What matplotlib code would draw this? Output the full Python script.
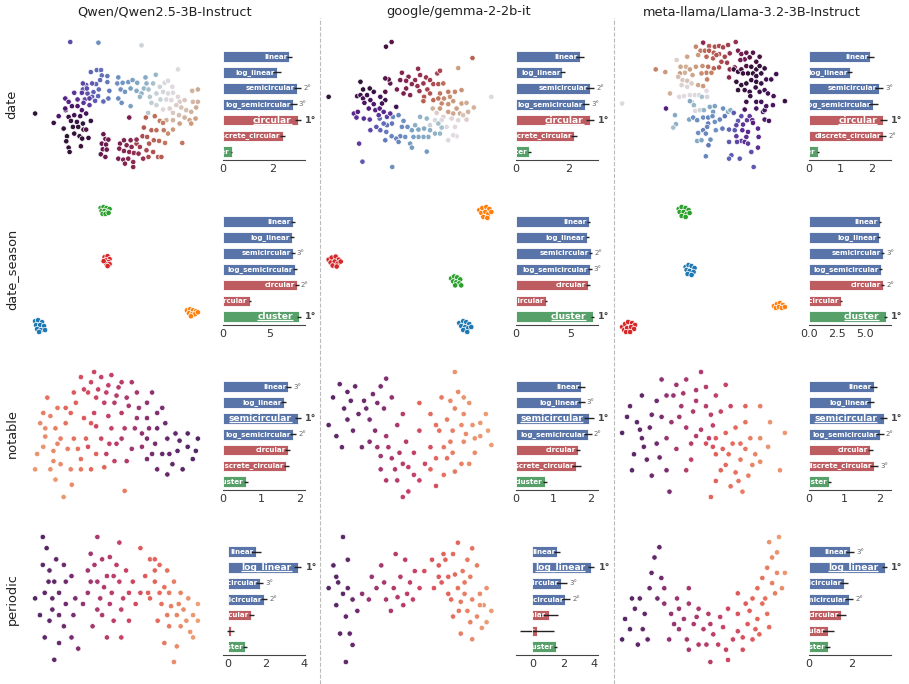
import matplotlib
matplotlib.use("Agg")
import matplotlib.pyplot as plt
import seaborn as sns
from matplotlib.lines import Line2D
from matplotlib.ticker import MaxNLocator
from matplotlib.transforms import Bbox, TransformedBbox

models = ["Qwen/Qwen2.5-3B-Instruct", "google/gemma-2-2b-it", "meta-llama/Llama-3.2-3B-Instruct"]
datasets = ["date", "date_season", "notable", "periodic"]
methods = ["linear", "log_linear", "semicircular", "log_semicircular",
           "circular", "discrete_circular", "cluster"]
method_family = ["lin", "lin", "lin", "lin", "circ", "circ", "clu"]
family_color = {"lin": "#5874a8", "circ": "#bd5d62", "clu": "#58a06a"}

# bar scores per model (rows: qwen, gemma, llama)
date_mean = [[2.69, 2.19, 3.01, 2.84, 3.03, 2.41, 0.36],
             [2.45, 1.78, 2.83, 2.65, 2.83, 2.22, 0.51],
             [1.97, 1.31, 2.25, 2.06, 2.39, 2.37, 0.28]]
date_err = [[0.11, 0.15, 0.15, 0.14, 0.11, 0.11, 0.02],
            [0.16, 0.10, 0.16, 0.14, 0.15, 0.11, 0.06],
            [0.12, 0.08, 0.14, 0.15, 0.12, 0.12, 0.03]]
date_rank = [[0, 0, 2, 3, 1, 0, 0], [0, 0, 2, 3, 1, 0, 0], [0, 0, 3, 0, 1, 2, 0]]

season_mean = [[7.50, 7.43, 7.50, 7.75, 7.93, 2.86, 8.18],
               [6.70, 6.57, 6.88, 6.82, 6.64, 2.75, 7.07],
               [6.31, 6.19, 6.55, 6.37, 6.55, 2.86, 6.80]]
season_err = [[0.2, 0.2, 0.2, 0.2, 0.2, 0.1, 0.2],
              [0.15, 0.15, 0.15, 0.15, 0.15, 0.12, 0.13],
              [0.12, 0.12, 0.13, 0.12, 0.13, 0.1, 0.13]]
season_rank = [[0, 0, 3, 0, 2, 0, 1], [0, 0, 2, 3, 0, 0, 1], [0, 0, 3, 0, 2, 0, 1]]

notable_mean = [[1.70, 1.58, 1.95, 1.82, 1.68, 1.65, 0.60],
                [1.74, 1.74, 1.95, 1.91, 1.65, 1.61, 0.77],
                [1.83, 1.75, 2.11, 2.00, 1.74, 1.85, 0.58]]
notable_err = [[0.07, 0.07, 0.08, 0.08, 0.07, 0.07, 0.05],
               [0.11, 0.09, 0.13, 0.11, 0.06, 0.13, 0.06],
               [0.09, 0.10, 0.10, 0.11, 0.06, 0.11, 0.04]]
notable_rank = [[3, 0, 1, 2, 0, 0, 0], [0, 3, 1, 2, 0, 0, 0], [0, 0, 1, 2, 0, 3, 0]]

periodic_mean = [[1.45, 3.68, 1.67, 1.90, 1.22, 0.12, 0.90],
                 [1.60, 3.79, 1.87, 2.13, 1.04, 0.28, 1.49],
                 [1.92, 3.55, 1.65, 1.89, 1.50, 0.87, 0.87]]
periodic_err = [[0.27, 0.18, 0.18, 0.16, 0.14, 0.20, 0.10],
                [0.20, 0.20, 0.37, 0.30, 0.64, 1.10, 0.10],
                [0.20, 0.12, 0.19, 0.19, 0.24, 0.31, 0.10]]
periodic_rank = [[0, 1, 3, 2, 0, 0, 0], [0, 1, 3, 2, 0, 0, 0], [3, 1, 0, 2, 0, 0, 0]]

# 2-d projections of the hidden states: (x, y, colour value), y grows downwards
qwen_date_pts = [
    (210, 36, .32), (295, 38, .2), (425, 46, .05), (535, 118, .02), (104, 250, .5), (388, 262, .63),
    (400, 410, .65), (548, 338, .8),
    (272, 126, .28), (290, 120, .27), (303, 120, .26), (305, 136, .26), (322, 138, .25), (322, 156, .24),
    (300, 150, .27), (288, 162, .28), (276, 160, .3), (258, 165, .31), (248, 178, .32), (262, 190, .31),
    (280, 186, .29), (296, 178, .27), (294, 198, .28), (276, 200, .3), (254, 208, .33), (285, 212, .3),
    (310, 214, .27), (325, 205, .25), (328, 182, .24),
    (355, 142, .2), (352, 160, .2), (368, 158, .19), (385, 156, .18), (398, 150, .17), (412, 158, .16),
    (437, 142, .15), (468, 134, .12), (440, 160, .13), (362, 178, .2), (375, 185, .19), (392, 175, .17),
    (410, 182, .15), (425, 190, .13), (432, 175, .12), (446, 178, .1), (460, 160, .1), (355, 205, .21),
    (365, 218, .2), (392, 228, .17), (420, 200, .12), (450, 200, .08), (470, 190, .06),
    (480, 170, .05), (495, 158, .03), (505, 152, .02), (518, 170, .01), (490, 185, .04), (505, 190, .02),
    (520, 188, .99), (482, 208, .06), (500, 208, .03), (515, 210, .98), (535, 200, .97), (455, 218, .07),
    (470, 225, .05), (445, 248, .08), (490, 238, .98), (510, 235, .96), (540, 215, .95),
    (578, 182, .9), (595, 178, .89), (555, 210, .94), (580, 215, .91), (595, 215, .9), (530, 225, .95),
    (545, 232, .93), (560, 240, .92), (575, 245, .9), (590, 232, .89), (520, 248, .94), (538, 255, .92),
    (555, 262, .9), (570, 270, .88), (588, 265, .87), (500, 270, .9), (520, 270, .9), (540, 280, .87),
    (520, 298, .86), (505, 310, .84), (575, 280, .86),
    (438, 262, .77), (465, 258, .79), (480, 272, .81), (490, 278, .82), (432, 292, .75), (455, 300, .77),
    (470, 300, .79), (492, 300, .81), (428, 318, .73), (442, 320, .75), (462, 330, .77), (478, 332, .78),
    (496, 338, .8), (448, 340, .75), (410, 340, .71), (440, 360, .72), (460, 365, .74), (475, 380, .75),
    (485, 380, .76), (446, 380, .73), (420, 350, .7),
    (310, 312, .6), (316, 326, .61), (325, 328, .61), (305, 340, .6), (318, 343, .61), (308, 357, .6),
    (320, 358, .61), (302, 372, .6), (316, 380, .61), (360, 340, .63), (372, 330, .64), (392, 330, .65),
    (410, 328, .67), (380, 345, .65), (395, 350, .66), (358, 355, .64), (372, 362, .65), (388, 365, .66),
    (402, 368, .67), (416, 370, .67), (355, 385, .63), (370, 388, .64), (385, 385, .65), (430, 385, .68),
    (375, 400, .65), (400, 395, .66),
    (196, 240, .45), (215, 228, .43), (232, 228, .42), (245, 240, .42), (205, 260, .47), (222, 255, .45),
    (240, 258, .45), (258, 250, .44), (272, 272, .48), (212, 272, .48), (230, 275, .48), (248, 280, .48),
    (190, 295, .5), (218, 290, .5), (234, 290, .5), (250, 298, .52), (258, 298, .58), (200, 318, .5),
    (222, 310, .51), (238, 318, .51), (246, 325, .51), (265, 323, .53), (198, 333, .5), (205, 352, .51),
    (208, 365, .51), (242, 348, .53), (160, 278, .47),
    (248, 160, .33), (222, 188, .36), (245, 188, .35), (260, 175, .32), (195, 205, .39), (205, 215, .39),
    (232, 208, .37), (250, 218, .36), (268, 205, .34), (195, 235, .42), (175, 258, .42), (268, 225, .35)]

gemma_date_pts = [
    (214, 36, .58), (197, 50, .55), (458, 84, .77), (415, 114, .87), (515, 200, .98), (24, 200, .5),
    (116, 340, .35), (126, 394, .3), (216, 410, .2), (320, 364, .18),
    (294, 116, .67), (245, 128, .65), (300, 135, .68), (352, 130, .71), (360, 122, .72), (265, 140, .65),
    (240, 150, .63), (258, 152, .65), (285, 150, .67), (318, 142, .69), (330, 150, .7), (310, 160, .69),
    (275, 162, .66), (292, 168, .68), (230, 178, .63), (258, 175, .64), (298, 183, .69), (322, 178, .71),
    (340, 162, .73), (355, 162, .75), (270, 195, .65), (250, 190, .63), (195, 185, .58), (210, 160, .59),
    (205, 148, .57), (195, 145, .58),
    (370, 160, .79), (385, 185, .81), (405, 185, .83), (425, 180, .85), (360, 190, .8), (330, 190, .75),
    (312, 200, .75), (310, 213, .77), (340, 210, .78), (355, 205, .8), (372, 205, .83), (390, 200, .85),
    (400, 213, .86), (365, 220, .83), (385, 222, .85), (410, 235, .87), (425, 220, .87), (440, 218, .89),
    (462, 232, .9), (445, 245, .9), (420, 250, .89), (400, 250, .88), (385, 245, .87), (360, 235, .86),
    (338, 235, .9), (350, 248, .95),
    (370, 260, .96), (395, 265, .97), (415, 270, .98), (440, 268, .95), (430, 255, .93), (405, 290, .99),
    (380, 290, .01), (365, 270, .02), (345, 270, .03), (330, 285, .05), (385, 330, .02), (410, 318, .0),
    (400, 315, .0),
    (320, 265, .12), (300, 260, .13), (285, 285, .14), (275, 300, .17), (295, 298, .16), (312, 295, .15),
    (330, 300, .14), (345, 310, .13), (360, 310, .12), (325, 320, .15), (310, 320, .15), (295, 320, .16),
    (280, 320, .17), (270, 340, .18), (275, 352, .18), (255, 320, .2), (240, 318, .22), (228, 325, .22),
    (214, 318, .22), (198, 305, .24), (195, 330, .24), (235, 335, .22), (250, 272, .2), (262, 290, .2),
    (245, 290, .21), (218, 260, .22), (235, 255, .22), (215, 280, .25), (200, 285, .26), (190, 280, .27),
    (178, 265, .28), (180, 300, .28), (168, 290, .3), (365, 292, .1), (355, 280, .1),
    (110, 198, .45), (120, 195, .46), (128, 205, .45), (140, 195, .46), (132, 218, .43), (150, 210, .44),
    (160, 222, .42), (145, 235, .41), (165, 240, .4), (178, 235, .4), (190, 245, .38), (180, 200, .44),
    (160, 185, .48), (148, 175, .5), (128, 178, .5), (120, 155, .5), (100, 250, .38), (108, 262, .37),
    (112, 245, .4), (130, 265, .37), (148, 268, .35), (150, 300, .33), (175, 255, .36), (200, 260, .34),
    (228, 230, .45), (210, 250, .36), (195, 210, .47), (185, 220, .45)]

llama_date_pts = [
    (36, 220, .99), (137, 118, .82), (166, 126, .86), (180, 190, .9), (168, 235, .4), (526, 213, .48),
    (432, 410, .3), (378, 36, .68), (280, 38, .66), (288, 378, .22),
    (258, 50, .83), (298, 48, .76), (315, 50, .74), (328, 48, .73), (340, 52, .72), (355, 45, .71),
    (272, 62, .81), (285, 62, .79), (298, 62, .76), (312, 68, .76), (328, 72, .74), (345, 80, .72),
    (360, 70, .68), (290, 80, .78), (310, 85, .76), (320, 75, .75), (335, 95, .73), (352, 98, .71),
    (328, 112, .74), (312, 115, .77), (295, 110, .8), (278, 108, .85), (290, 128, .82), (305, 128, .82),
    (360, 118, .66), (375, 112, .64), (385, 62, .63), (395, 72, .62), (410, 68, .6), (405, 88, .61),
    (392, 90, .62),
    (232, 80, .88), (265, 75, .86), (212, 110, .88), (228, 110, .9), (240, 118, .87), (258, 110, .86),
    (210, 130, .86), (225, 128, .9), (248, 135, .88), (275, 130, .84), (205, 140, .92), (218, 150, .94),
    (232, 152, .93), (245, 160, .95), (265, 165, .88), (280, 168, .86), (215, 165, .96), (232, 170, .97),
    (200, 90, .96), (292, 148, .82),
    (208, 200, .99), (222, 198, .0), (240, 195, .01), (255, 195, .02), (268, 195, .03), (290, 182, .0),
    (292, 200, .04), (276, 200, .1), (245, 215, .1), (252, 225, .12), (256, 242, .02), (270, 240, .05),
    (240, 213, .15), (282, 240, .13), (300, 230, .15), (315, 228, .17), (310, 245, .18), (340, 235, .2),
    (355, 245, .15), (362, 240, .14), (195, 255, .15), (198, 282, .14), (190, 292, .1), (238, 268, .16),
    (250, 262, .2), (262, 270, .2), (280, 262, .2), (295, 262, .22), (308, 258, .2), (295, 280, .24),
    (315, 275, .2), (330, 268, .22), (345, 258, .25), (292, 290, .22), (318, 300, .2), (338, 295, .25),
    (280, 300, .23), (265, 308, .2), (288, 310, .22), (262, 332, .15), (275, 330, .16), (302, 328, .2),
    (296, 345, .25), (358, 298, .28), (375, 300, .3),
    (372, 248, .3), (385, 272, .3), (395, 258, .32), (380, 285, .33), (400, 283, .36), (412, 270, .35),
    (420, 258, .35), (428, 270, .38), (398, 300, .37), (415, 305, .38), (380, 318, .35), (395, 332, .35),
    (410, 320, .37), (405, 335, .37), (382, 335, .33), (415, 340, .35), (358, 335, .3), (445, 295, .38),
    (447, 320, .38), (445, 352, .37), (425, 365, .32), (390, 385, .3), (365, 375, .3), (358, 385, .28),
    (430, 278, .4), (460, 245, .42), (465, 268, .42), (478, 272, .44), (465, 240, .44),
    (372, 118, .52), (385, 125, .53), (395, 118, .55), (410, 108, .57), (425, 110, .52), (440, 118, .51),
    (450, 108, .52), (465, 115, .49), (400, 130, .53), (415, 130, .51), (430, 130, .5), (440, 138, .48),
    (455, 130, .47), (470, 148, .45), (485, 148, .45), (500, 132, .45), (380, 155, .51), (395, 165, .5),
    (410, 160, .5), (425, 150, .49), (440, 155, .48), (455, 160, .47), (385, 180, .5), (405, 180, .48),
    (420, 185, .47), (438, 172, .47), (450, 185, .46), (465, 180, .45), (475, 190, .45), (492, 198, .44),
    (422, 198, .47), (410, 215, .46), (440, 215, .45), (455, 215, .44), (470, 228, .43), (490, 225, .43),
    (405, 238, .44), (440, 235, .43), (430, 68, .58), (450, 80, .56), (440, 95, .55), (420, 82, .58),
    (358, 142, .66)]

# date_season: colour value is the season index (tab10)
qwen_season_pts = [
    (99, 207, 2), (102, 206, 2), (105, 207, 2), (108, 208, 2), (100, 210, 2), (103, 210, 2), (106, 211, 2),
    (101, 213, 2), (104, 213, 2), (107, 212, 2),
    (103, 257, 3), (106, 256, 3), (108, 259, 3), (104, 260, 3), (107, 262, 3), (105, 264, 3), (102, 261, 3),
    (108, 264, 3), (106, 266, 3),
    (33, 322, 0), (36, 321, 0), (40, 323, 0), (34, 326, 0), (38, 326, 0), (42, 327, 0), (35, 330, 0),
    (39, 331, 0), (43, 331, 0), (37, 333, 0),
    (186, 311, 1), (189, 310, 1), (192, 311, 1), (195, 312, 1), (188, 314, 1), (191, 315, 1), (194, 315, 1),
    (197, 313, 1), (190, 317, 1)]
gemma_season_pts = [
    (481, 210, 1), (484, 208, 1), (488, 207, 1), (491, 209, 1), (483, 213, 1), (487, 212, 1), (490, 214, 1),
    (493, 212, 1), (485, 217, 1), (489, 218, 1),
    (331, 260, 3), (334, 258, 3), (338, 257, 3), (341, 260, 3), (333, 263, 3), (337, 262, 3), (340, 264, 3),
    (343, 262, 3), (335, 266, 3), (339, 267, 3),
    (453, 279, 2), (456, 277, 2), (459, 278, 2), (462, 280, 2), (455, 282, 2), (458, 283, 2), (461, 284, 2),
    (457, 286, 2), (463, 286, 2),
    (461, 324, 0), (465, 322, 0), (468, 323, 0), (471, 325, 0), (463, 327, 0), (467, 328, 0), (470, 329, 0),
    (473, 328, 0), (465, 331, 0), (469, 333, 0)]
llama_season_pts = [
    (679, 208, 2), (682, 206, 2), (686, 207, 2), (689, 209, 2), (680, 211, 2), (684, 211, 2), (687, 213, 2),
    (690, 212, 2), (682, 215, 2), (686, 216, 2),
    (686, 266, 0), (689, 264, 0), (692, 265, 0), (695, 267, 0), (687, 269, 0), (690, 270, 0), (694, 271, 0),
    (688, 273, 0), (692, 274, 0),
    (775, 305, 1), (778, 303, 1), (781, 302, 1), (784, 304, 1), (777, 307, 1), (780, 306, 1), (783, 307, 1),
    (786, 306, 1),
    (622, 326, 3), (625, 323, 3), (628, 321, 3), (632, 322, 3), (635, 324, 3), (624, 329, 3), (627, 327, 3),
    (631, 326, 3), (634, 328, 3), (626, 331, 3), (630, 331, 3)]

qwen_notable_pts = [
    (45, 425, .15), (50, 438, .15), (55, 418, .18), (60, 430, .2), (48, 448, .12), (58, 452, .15),
    (65, 440, .2), (70, 425, .25), (62, 410, .22), (75, 415, .3), (80, 405, .32), (72, 450, .2),
    (85, 460, .25), (40, 470, .1), (55, 470, .12), (68, 497, .1), (90, 440, .3), (95, 425, .35),
    (75, 470, .18), (100, 455, .3), (88, 420, .35), (52, 400, .25), (78, 395, .35), (108, 468, .3),
    (65, 465, .15), (42, 455, .12), (50, 430, .15), (62, 445, .18), (78, 440, .25), (82, 450, .25),
    (70, 410, .3), (58, 462, .15), (48, 415, .2), (85, 470, .22), (95, 470, .28), (60, 480, .1),
    (76, 485, .15),
    (95, 385, .45), (105, 380, .5), (115, 378, .5), (122, 390, .55), (110, 395, .5), (100, 400, .45),
    (118, 405, .55), (130, 400, .6), (125, 415, .55), (112, 418, .5), (98, 415, .45), (135, 385, .6),
    (140, 395, .62), (128, 430, .55), (115, 430, .5), (105, 440, .45), (140, 420, .65), (145, 435, .7),
    (120, 445, .55), (110, 455, .5), (135, 450, .65), (150, 405, .7), (92, 395, .42), (128, 491, .2),
    (85, 380, .4), (88, 392, .45), (102, 392, .48), (108, 405, .5), (120, 398, .55), (132, 408, .6),
    (138, 430, .62), (125, 440, .58), (113, 445, .5), (100, 428, .45), (92, 448, .4), (118, 462, .5),
    (130, 462, .58), (145, 448, .68), (152, 430, .72), (142, 410, .66), (125, 385, .55), (112, 388, .5),
    (98, 375, .45), (155, 395, .72), (160, 415, .78),
    (150, 440, .8), (160, 430, .85), (170, 440, .88), (178, 435, .9), (165, 455, .88), (180, 452, .92),
    (190, 448, .95), (195, 460, .95), (175, 465, .9), (160, 470, .85), (185, 470, .95), (155, 455, .82),
    (200, 440, .97), (150, 420, .75), (165, 410, .8), (168, 425, .85), (172, 455, .88), (182, 442, .92),
    (190, 435, .95), (158, 445, .82), (198, 452, .97), (170, 475, .88), (150, 460, .8)]
gemma_notable_pts = [
    (358, 383, .9), (365, 390, .9), (372, 385, .88), (380, 398, .85), (388, 392, .82), (395, 385, .8),
    (362, 405, .9), (375, 410, .85), (385, 415, .8), (398, 405, .75), (405, 395, .72), (370, 425, .85),
    (390, 425, .75), (360, 440, .88), (378, 440, .8), (348, 420, .95), (400, 378, .78),
    (352, 395, .95), (368, 398, .9), (382, 405, .85), (365, 415, .88), (392, 400, .78), (355, 430, .92),
    (385, 435, .75),
    (392, 440, .65), (400, 430, .62), (410, 420, .6), (418, 435, .55), (405, 450, .6), (415, 455, .55),
    (425, 445, .5), (395, 460, .62), (410, 470, .55), (425, 465, .5), (435, 455, .45), (420, 480, .5),
    (440, 440, .4), (430, 425, .42), (415, 410, .55), (445, 475, .4), (402, 440, .62), (412, 445, .58),
    (420, 458, .52), (400, 470, .58), (430, 470, .48), (415, 485, .5), (408, 460, .58), (395, 448, .65),
    (430, 400, .3), (440, 410, .28), (450, 395, .22), (455, 415, .2), (462, 405, .18), (468, 420, .15),
    (448, 425, .25), (458, 435, .2), (470, 435, .15), (478, 420, .12), (485, 430, .1), (490, 410, .08),
    (465, 390, .15), (462, 372, .12), (475, 400, .12), (455, 450, .25), (468, 455, .2), (480, 445, .15),
    (495, 438, .08), (440, 460, .3), (452, 465, .25), (445, 420, .25), (452, 440, .22), (460, 445, .2),
    (472, 428, .15), (480, 432, .12), (460, 425, .2), (470, 410, .15), (485, 418, .1), (445, 450, .3),
    (462, 462, .22), (475, 455, .15), (492, 425, .06), (458, 398, .15), (470, 395, .12)]
llama_notable_pts = [
    (628, 410, .9), (635, 425, .92), (640, 440, .9), (648, 430, .88), (655, 445, .85), (632, 455, .92),
    (645, 460, .88), (660, 420, .8), (620, 435, .95), (650, 475, .85), (665, 470, .8), (668, 490, .8),
    (640, 400, .9), (655, 405, .85), (625, 420, .93), (638, 432, .9), (650, 418, .86), (642, 448, .9),
    (630, 470, .92), (658, 458, .85),
    (665, 400, .7), (675, 390, .65), (685, 385, .6), (695, 395, .6), (705, 392, .55), (680, 410, .62),
    (692, 415, .58), (705, 410, .55), (715, 400, .5), (720, 415, .48), (670, 425, .68), (685, 430, .6),
    (700, 432, .55), (712, 428, .5), (690, 445, .55), (660, 385, .72), (700, 378, .58), (725, 390, .48),
    (690, 460, .5), (675, 450, .6), (730, 410, .45), (672, 400, .68), (682, 398, .62), (695, 405, .58),
    (710, 418, .52), (678, 420, .64), (695, 438, .56), (708, 440, .5), (665, 440, .68), (685, 470, .55),
    (705, 445, .4), (715, 440, .35), (725, 435, .3), (735, 430, .28), (740, 445, .25), (745, 425, .25),
    (750, 440, .2), (715, 455, .32), (728, 455, .28), (740, 460, .22), (755, 455, .18), (760, 440, .15),
    (720, 470, .3), (735, 472, .25), (748, 475, .2), (730, 485, .25), (710, 495, .3), (770, 425, .12),
    (785, 435, .1), (780, 470, .12), (745, 410, .3), (760, 410, .2), (712, 448, .38), (722, 450, .32),
    (732, 445, .28), (745, 450, .22), (752, 465, .18), (725, 465, .28), (738, 480, .22), (760, 462, .15),
    (768, 448, .12), (715, 480, .32), (742, 490, .2)]

qwen_periodic_pts = [
    (38, 550, .95), (42, 560, .95), (38, 575, .92), (45, 580, .9), (50, 590, .9), (40, 600, .92),
    (48, 605, .9), (55, 600, .88), (62, 590, .85), (60, 575, .85), (68, 585, .82), (55, 620, .88),
    (45, 625, .9), (35, 620, .95), (60, 630, .85), (70, 620, .8), (72, 605, .8), (40, 640, .92),
    (55, 645, .88), (68, 640, .82), (50, 660, .9), (75, 650, .78), (30, 605, .97), (52, 570, .9),
    (48, 615, .9), (62, 610, .85), (44, 590, .92),
    (85, 580, .65), (92, 575, .6), (100, 570, .58), (108, 568, .55), (115, 575, .52), (95, 590, .6),
    (105, 585, .56), (118, 590, .5), (125, 580, .48), (132, 590, .45), (85, 600, .65), (98, 605, .6),
    (110, 600, .55), (122, 605, .5), (135, 610, .42), (100, 620, .58), (112, 625, .52), (90, 630, .62),
    (105, 640, .55), (128, 625, .45), (140, 600, .4), (118, 555, .5), (95, 550, .6), (80, 610, .7),
    (120, 640, .48), (88, 590, .65), (102, 595, .58), (112, 585, .54), (120, 615, .5), (95, 615, .6),
    (108, 610, .56), (128, 600, .46), (88, 565, .65),
    (140, 560, .35), (150, 570, .3), (160, 575, .28), (168, 580, .25), (145, 585, .35), (155, 590, .3),
    (165, 595, .25), (175, 590, .2), (182, 600, .18), (150, 605, .3), (162, 610, .25), (172, 612, .2),
    (185, 615, .15), (190, 605, .12), (195, 620, .1), (158, 625, .28), (170, 630, .22), (182, 630, .15),
    (192, 635, .1), (165, 645, .22), (178, 648, .15), (195, 640, .08), (175, 662, .15), (155, 570, .3),
    (148, 600, .32), (200, 625, .06), (155, 580, .3), (170, 600, .22), (178, 620, .18), (160, 600, .27),
    (188, 625, .12), (168, 620, .22), (180, 610, .18), (200, 610, .06)]
gemma_periodic_pts = [
    (335, 580, .95), (340, 595, .93), (345, 605, .92), (338, 615, .93), (348, 625, .9), (342, 640, .92),
    (352, 640, .9), (330, 600, .96), (355, 610, .88), (350, 575, .9), (345, 555, .92), (360, 620, .85),
    (355, 650, .88), (348, 665, .9), (338, 590, .94), (350, 600, .9),
    (365, 605, .7), (372, 610, .68), (380, 600, .65), (390, 610, .6), (398, 600, .58), (405, 590, .55),
    (415, 595, .5), (420, 585, .48), (395, 620, .6), (408, 615, .55), (375, 590, .68), (385, 580, .62),
    (410, 575, .52), (425, 600, .45), (400, 570, .55), (388, 595, .62), (402, 608, .56), (412, 605, .52),
    (418, 610, .5),
    (430, 585, .4), (438, 575, .38), (445, 580, .35), (452, 575, .3), (460, 570, .28), (448, 595, .35),
    (455, 590, .3), (462, 588, .28), (470, 585, .22), (478, 590, .2), (465, 600, .25), (472, 605, .2),
    (480, 610, .18), (488, 605, .15), (495, 600, .12), (458, 610, .28), (466, 620, .22), (475, 620, .18),
    (485, 625, .15), (492, 615, .1), (468, 640, .2), (480, 645, .15), (490, 635, .1), (465, 560, .3),
    (480, 565, .25), (500, 620, .08), (485, 580, .2), (440, 600, .38), (445, 590, .35), (455, 605, .3),
    (468, 612, .22), (478, 630, .18), (488, 615, .12), (460, 625, .25), (472, 595, .22), (450, 570, .3),
    (495, 630, .08), (475, 575, .22)]
llama_periodic_pts = [
    (625, 620, .95), (630, 630, .95), (635, 610, .92), (640, 600, .9), (645, 615, .9), (650, 590, .88),
    (652, 575, .88), (655, 560, .9), (660, 550, .9), (658, 600, .85), (662, 580, .85), (648, 640, .9),
    (622, 640, .97), (638, 645, .93), (643, 630, .9), (632, 600, .93),
    (665, 605, .7), (672, 615, .68), (680, 610, .65), (690, 605, .62), (700, 610, .6), (710, 615, .55),
    (695, 625, .6), (705, 630, .55), (680, 630, .65), (670, 640, .7), (688, 640, .62), (700, 645, .58),
    (715, 635, .52), (725, 628, .48), (720, 645, .5), (735, 640, .45), (712, 662, .55), (665, 590, .72),
    (690, 590, .62), (730, 610, .45), (675, 625, .68), (685, 620, .64), (698, 618, .6), (712, 625, .55),
    (722, 618, .5), (708, 645, .55), (728, 650, .48), (690, 650, .6), (678, 600, .66), (740, 632, .42),
    (740, 615, .38), (748, 605, .35), (755, 600, .3), (760, 590, .28), (765, 580, .25), (770, 570, .2),
    (775, 560, .15), (780, 555, .12), (772, 545, .12), (782, 540, .08), (768, 600, .25), (778, 595, .2),
    (785, 590, .15), (750, 625, .35), (760, 620, .3), (770, 615, .25), (755, 640, .35), (745, 650, .4),
    (762, 635, .3), (740, 595, .35), (788, 575, .1), (730, 660, .45), (752, 612, .32), (765, 605, .27),
    (775, 585, .2), (780, 575, .15), (758, 630, .32), (772, 628, .28), (745, 638, .38)]

scatter_pts = {
    "date": [qwen_date_pts, gemma_date_pts, llama_date_pts],
    "date_season": [qwen_season_pts, gemma_season_pts, llama_season_pts],
    "notable": [qwen_notable_pts, gemma_notable_pts, llama_notable_pts],
    "periodic": [qwen_periodic_pts, gemma_periodic_pts, llama_periodic_pts],
}
bar_data = {
    "date": (date_mean, date_err, date_rank),
    "date_season": (season_mean, season_err, season_rank),
    "notable": (notable_mean, notable_err, notable_rank),
    "periodic": (periodic_mean, periodic_err, periodic_rank),
}

W, H = 909, 684
fig = plt.figure(figsize=(W / 100, H / 100), dpi=100)
flare = sns.color_palette("flare", as_cmap=True)
twilight = plt.get_cmap("twilight")
tab = plt.get_cmap("tab10")


def rect(left, top, w, h):
    return [left / W, 1 - (top + h) / H, w / W, h / H]


winners = []
for r, ds in enumerate(datasets):
    means, errs, ranks = bar_data[ds]
    for c in range(3):
        # scatter of the representation
        sax = fig.add_axes(rect(27 + 293.5 * c, 35.75 + 165 * r, 179, 137.5))
        pts = scatter_pts[ds][c]
        xs = [p[0] for p in pts]
        ys = [p[1] for p in pts]
        if ds == "date_season":
            cols = [tab(int(p[2])) for p in pts]
        elif ds == "date":
            cols = [twilight(p[2]) for p in pts]
        else:
            cols = [flare(p[2]) for p in pts]
        sax.scatter(xs, ys, c=cols, s=15, edgecolors="white", linewidths=0.5)
        sax.invert_yaxis()
        sax.axis("off")
        if c == 0:
            fig.text(12 / W, 1 - (104 + 165 * r) / H, ds, rotation=90, ha="center",
                     va="center", fontsize=9.3, color="#222")
        if r == 0:
            fig.text((27 + 293.5 * c + 138) / W, 1 - 12 / H, models[c], ha="center",
                     va="center", fontsize=9.3, color="#222")

        # bar chart of the fitted scores
        bax = fig.add_axes(rect(223 + 293 * c, 48.7 + 165 * r, 82, 111))
        m, e, rk = means[c], errs[c], ranks[c]
        bax.barh(range(7), m, height=0.68,
                 color=[family_color[f] for f in method_family],
                 edgecolor="white", linewidth=0.6)
        bax.errorbar(m, range(7), xerr=e, fmt="none", ecolor="#222", elinewidth=1.0, capsize=0)
        bax.set_ylim(6.5, -0.5)
        bax.xaxis.set_major_locator(MaxNLocator(nbins=3, steps=[1, 2, 2.5, 5, 10]))
        bax.set_xlim(bax.get_xlim())
        bax.set_yticks([])
        for s in ["top", "right", "left"]:
            bax.spines[s].set_visible(False)
        bax.spines["bottom"].set_color("#444")
        bax.tick_params(axis="x", length=0, labelsize=8, labelcolor="#333", pad=3)

        for i in range(7):
            clip = TransformedBbox(Bbox([[0, i - 0.34], [m[i], i + 0.34]]), bax.transData)
            best = rk[i] == 1
            t = bax.annotate(methods[i], xy=(m[i], i), xytext=(-4.5 if best else -1.5, 0),
                             textcoords="offset points", ha="right", va="center",
                             color="white", fontsize=6.6 if best else 5.1, fontweight="bold",
                             annotation_clip=False)
            t.set_clip_on(True)
            t.set_clip_box(clip)
            if best:
                winners.append((t, bax, clip))
            if rk[i]:
                bax.annotate(f"{rk[i]}°", xy=(m[i] + e[i], i), xytext=(3 if best else 1.5, 0),
                             textcoords="offset points", ha="left", va="center",
                             fontsize=6.8 if best else 5, color="#444" if best else "#666",
                             fontweight="bold" if best else "normal", annotation_clip=False)

# separators between the models
for xs in [320, 614]:
    fig.add_artist(Line2D([xs / W, xs / W], [0, 1 - 18 / H], transform=fig.transFigure,
                          ls="--", color="#bbbbbb", lw=0.8))

# underline the best method name
fig.canvas.draw()
rend = fig.canvas.get_renderer()
for t, ax, clip in winners:
    bb = t.get_window_extent(rend)
    inv = ax.transData.inverted()
    (x0, y0), (x1, _) = inv.transform([(bb.x0, bb.y0 + 0.8), (bb.x1, bb.y0 + 0.8)])
    ln, = ax.plot([x0, x1], [y0, y0], color="white", lw=0.9, solid_capstyle="butt")
    ln.set_clip_box(clip)

fig.savefig("out.png", dpi=100)
